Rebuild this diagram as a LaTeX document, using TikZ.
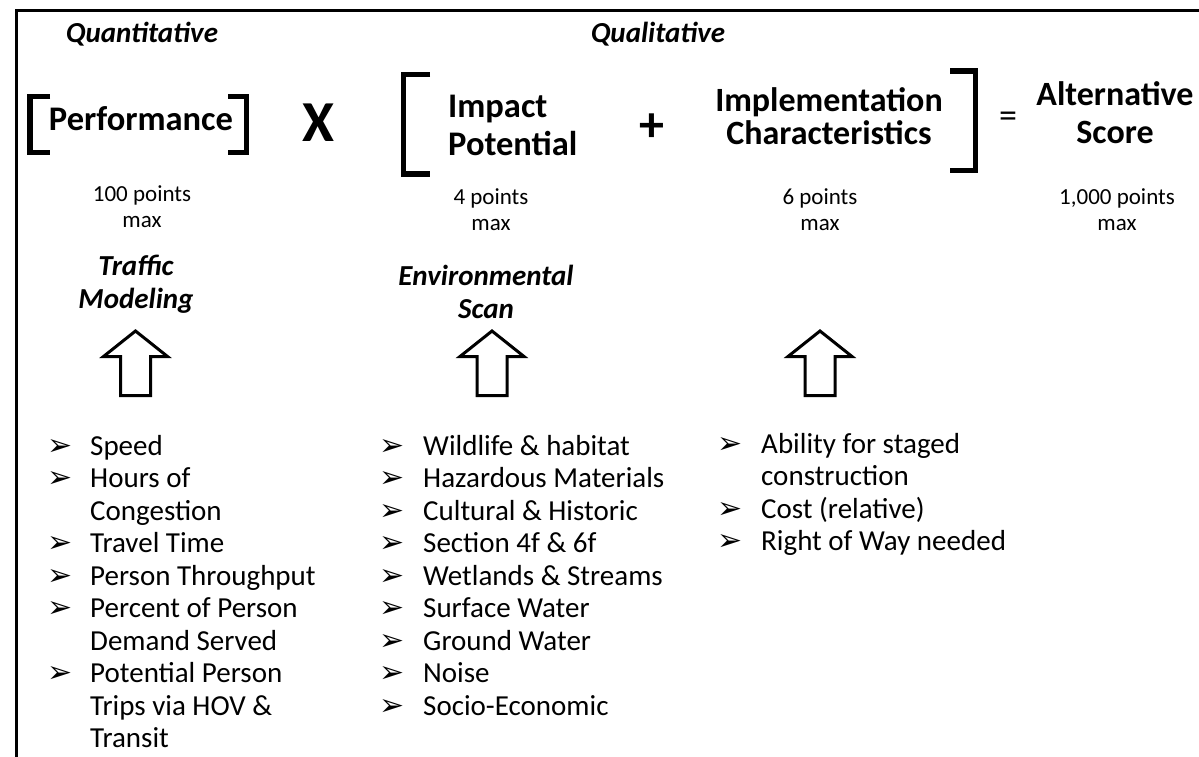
\documentclass[tikz,border=0pt]{standalone}
\usepackage{fontspec}
\setmainfont{Carlito}
\newfontfamily\dingfont{DejaVu Sans}

% 3-D arrowhead bullet
\newcommand{\bul}{{\dingfont\fontsize{30}{30}\selectfont ➢}}

\begin{document}
\begin{tikzpicture}[x=1pt,y=-1pt,line join=miter]
	\tikzstyle{head}=[inner sep=0pt,font=\fontsize{34.5}{38}\selectfont\bfseries,align=center];
	\tikzstyle{tag}=[inner sep=0pt,font=\fontsize{29}{33}\selectfont\bfseries\itshape,align=center];
	\tikzstyle{pts}=[inner sep=0pt,font=\fontsize{23}{26}\selectfont,align=center];
	\tikzstyle{oper}=[inner sep=0pt,anchor=base];
	\tikzstyle{brak}=[line width=5.5pt];
	\tikzstyle{uparr}=[line width=3pt];
	\tikzstyle{items}=[inner sep=0pt,anchor=base west,font=\fontsize{29}{32.5}\selectfont];

	\useasboundingbox[fill=white] (0,0) rectangle (1199,757);
	\draw[line width=2.5pt] (16.5,757) |- (1199,10.5);

	\node[tag,anchor=base] (quant) at (142,43) {Quantitative};
	\node[tag,anchor=base] (qual) at (658,43) {Qualitative};

	% the score formula (base = last line)
	\node[head,anchor=base] (perf) at (141,131) {Performance};
	\draw[brak] (50,96.5) -| (30,152.5) -- (50,152.5);
	\draw[brak] (228,96.5) -| (246.5,152.5) -- (228,152.5);
	\node[oper,font=\fontsize{58}{58}\selectfont\bfseries] (times) at (318,142) {X};
	\draw[brak] (430,74.5) -| (403.5,174) -- (430,174);
	\node[head,anchor=base west,align=left] (impact) at (448,155) {Impact\\Potential};
	\node[oper,font=\fontsize{50}{50}\selectfont\bfseries] (plus) at (652,142) {+};
	\node[head,anchor=base,font=\fontsize{34}{33}\selectfont\bfseries] (impl) at (829,145) {Implementation\\Characteristics};
	\draw[brak] (950,71) -| (975.5,170.5) -- (950,170.5);
	\node[oper,font=\fontsize{36}{36}\selectfont] (eq) at (1008,128) {=};
	\node[head,anchor=base,font=\fontsize{34}{38}\selectfont\bfseries] (alt) at (1115,143) {Alternative\\Score};

	\node[pts,anchor=base] (perfmax) at (142,227) {100 points\\max};
	\node[pts,anchor=base] (impactmax) at (491,230) {4 points\\max};
	\node[pts,anchor=base] (implmax) at (820,230) {6 points\\max};
	\node[pts,anchor=base] (altmax) at (1117,230) {1,000 points\\max};

	\node[tag,anchor=base] (traffic) at (136,308) {Traffic\\Modeling};
	\node[tag,anchor=base] (env) at (486,318) {Environmental\\Scan};

	% hollow up arrows
	\foreach \cx in {135.5,492,820}
		\draw[uparr] (\cx,331) -- (\cx+32,356.5) -- (\cx+15,356.5) -- (\cx+15,395.5)
			-- (\cx-15,395.5) -- (\cx-15,356.5) -- (\cx-32,356.5) -- cycle;

	% criteria lists
	\node[items] (trafficlist) at (47,455) {\begin{tabular}[t]{@{}p{43pt}@{}l@{}}
		\bul & Speed\\
		\bul & Hours of\\
		     & Congestion\\
		\bul & Travel Time\\
		\bul & Person Throughput\\
		\bul & Percent of Person\\
		     & Demand Served\\
		\bul & Potential Person\\
		     & Trips via HOV \&\\
		     & Transit
	\end{tabular}};
	\node[items] (envlist) at (379,455) {\begin{tabular}[t]{@{}p{44pt}@{}l@{}}
		\bul & Wildlife \& habitat\\
		\bul & Hazardous Materials\\
		\bul & Cultural \& Historic\\
		\bul & Section 4f \& 6f\\
		\bul & Wetlands \& Streams\\
		\bul & Surface Water\\
		\bul & Ground Water\\
		\bul & Noise\\
		\bul & Socio-Economic
	\end{tabular}};
	\node[items] (impllist) at (717,453) {\begin{tabular}[t]{@{}p{44pt}@{}l@{}}
		\bul & Ability for staged\\
		     & construction\\
		\bul & Cost (relative)\\
		\bul & Right of Way needed
	\end{tabular}};
\end{tikzpicture}
\end{document}
